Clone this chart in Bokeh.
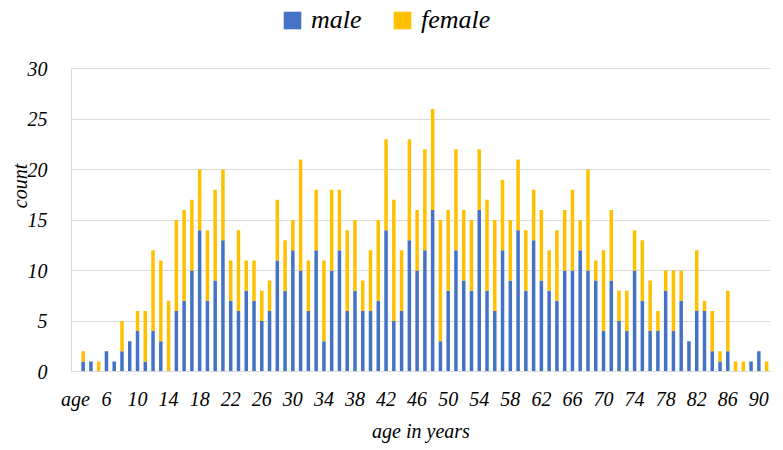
from bokeh.plotting import figure
from bokeh.models import Range1d, FixedTicker, Legend, LegendItem, ColumnDataSource
from bokeh.embed import file_html
from bokeh.resources import INLINE

# categories: header cell "age" followed by ages 3..91
categories = ["age"] + [str(a) for a in range(3, 92)]

male = [0,
        1, 1, 0, 2, 1, 2, 3,
        4, 1, 4, 3, 0, 6, 7, 10, 14, 7,
        9, 13, 7, 6, 8, 7, 5, 6, 11, 8,
        12, 10, 6, 12, 3, 10, 12, 6, 8, 6,
        6, 7, 14, 5, 6, 13, 10, 12, 16, 3,
        8, 12, 9, 8, 16, 8, 6, 12, 9, 14,
        8, 13, 9, 8, 7, 10, 10, 12, 10, 9,
        4, 9, 5, 4, 10, 7, 4, 4, 8, 4,
        7, 3, 6, 6, 2, 1, 2, 0, 0, 1, 2, 0]

female = [0,
          1, 0, 1, 0, 0, 3, 0,
          2, 5, 8, 8, 7, 9, 9, 7, 6, 7,
          9, 7, 4, 8, 3, 4, 3, 3, 6, 5,
          3, 11, 5, 6, 8, 8, 6, 8, 7, 3,
          6, 8, 9, 12, 6, 10, 6, 10, 10, 12,
          8, 10, 7, 7, 6, 9, 9, 7, 6, 7,
          6, 5, 7, 4, 7, 6, 8, 3, 10, 2,
          8, 7, 3, 4, 4, 6, 5, 2, 2, 6,
          3, 0, 6, 1, 4, 1, 6, 1, 1, 0, 0, 1]

series = ["male", "female"]
colors = ["#4472C4", "#FFC000"]
y_ticks = [0, 5, 10, 15, 20, 25, 30]
y_max = 30

FONT = "Liberation Serif"

src = ColumnDataSource(dict(x=list(range(len(categories))), male=male, female=female))

# frame extends to the top of the canvas so that the legend (inside the frame) is not clipped;
# the value axis itself is bounded to 0..30
p = figure(width=783, height=450, output_backend="svg", toolbar_location=None,
           x_range=Range1d(-0.5, len(categories) - 0.5), y_range=Range1d(0, 36.74),
           min_border_left=71, min_border_right=13, min_border_top=0, min_border_bottom=79)

rs = p.vbar_stack(series, x="x", width=0.45, color=colors, line_color=None, source=src)

p.outline_line_color = None
p.xgrid.grid_line_color = None
p.ygrid.grid_line_color = "#d9d9d9"
p.ygrid.grid_line_width = 1

p.yaxis.ticker = FixedTicker(ticks=y_ticks)
p.yaxis.bounds = (0, y_max)
tick_idx = list(range(0, len(categories), 4))
p.xaxis.ticker = FixedTicker(ticks=tick_idx)
p.xaxis.major_label_overrides = {i: categories[i] for i in tick_idx}

for ax in (p.xaxis[0], p.yaxis[0]):
    ax.axis_line_color = "#d9d9d9"
    ax.major_tick_line_color = None
    ax.minor_tick_line_color = None
    ax.major_tick_out = 0
    ax.major_tick_in = 0
    ax.minor_tick_out = 0
    ax.minor_tick_in = 0
    ax.major_label_text_font = FONT
    ax.major_label_text_font_style = "italic"
    ax.major_label_text_font_size = "20px"
    ax.major_label_text_color = "#000000"
    ax.axis_label_text_font = FONT
    ax.axis_label_text_font_style = "italic"
    ax.axis_label_text_font_size = "20px"
    ax.axis_label_text_color = "#000000"

p.xaxis.axis_label = "age in years"
p.yaxis.axis_label = "count"
p.xaxis.major_label_standoff = 16
p.yaxis.major_label_standoff = 24
p.xaxis.axis_label_standoff = 7
p.yaxis.axis_label_standoff = -6

legend = Legend(items=[LegendItem(label=s, renderers=[r]) for s, r in zip(series, rs)],
                orientation="horizontal", location=(210, 336),
                label_text_font=FONT, label_text_font_style="italic",
                label_text_font_size="26px", label_text_color="#000000",
                glyph_width=22, glyph_height=22, label_standoff=8, spacing=24,
                label_width=56,
                padding=0, margin=0, border_line_color=None, background_fill_alpha=0)
p.add_layout(legend, "center")

open("out.html", "w").write(file_html(p, INLINE))
